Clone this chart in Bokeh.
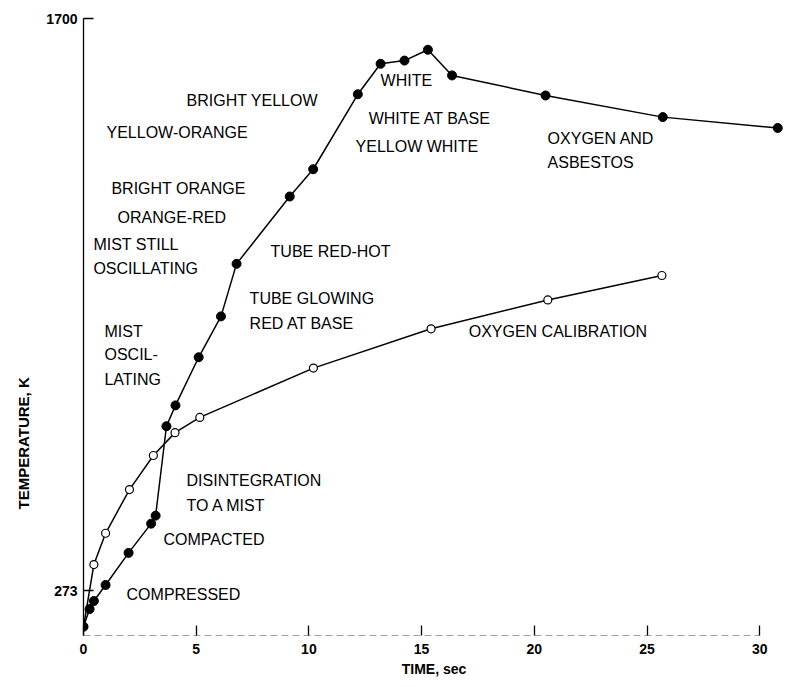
from bokeh.plotting import figure
from bokeh.models import Range1d, FixedTicker, Title
from bokeh.core.properties import value
from bokeh.embed import file_html
from bokeh.resources import INLINE

# Oxygen and asbestos (filled circles)
asb_time = [0, 0.27, 0.46, 0.98, 2.0, 3.0, 3.2, 3.68, 4.08, 5.11, 6.1, 6.79,
            9.15, 10.19, 12.17, 13.18, 14.24, 15.28, 16.35, 20.5, 25.7, 30.8]
asb_temp = [183, 227, 247, 287, 367, 440, 460, 683, 735, 855, 957, 1088,
            1256, 1324, 1511, 1587, 1595, 1622, 1558, 1508, 1454, 1427]

# Oxygen calibration (open circles)
cal_time = [0, 0.46, 0.98, 2.04, 3.1, 4.06, 5.16, 10.2, 15.42, 20.6, 25.66]
cal_temp = [183, 338, 416, 525, 610, 667, 705, 828, 926, 998, 1059]

x_ticks = [0, 5, 10, 15, 20, 25, 30]
y_ticks = [273, 1700]

notes = ["BRIGHT YELLOW", "YELLOW-ORANGE", "BRIGHT ORANGE", "ORANGE-RED",
         "MIST STILL", "OSCILLATING", "TUBE RED-HOT", "TUBE GLOWING",
         "RED AT BASE", "MIST", "OSCIL-", "LATING", "WHITE", "WHITE AT BASE",
         "YELLOW WHITE", "OXYGEN AND", "ASBESTOS", "OXYGEN CALIBRATION",
         "DISINTEGRATION", "TO A MIST", "COMPACTED", "COMPRESSED"]
note_time = [4.57, 1.02, 1.24, 1.51, 0.44, 0.44, 8.30, 7.37, 7.37, 0.93, 0.93,
             0.93, 13.18, 12.65, 12.07, 20.59, 20.59, 17.09, 4.57, 4.57, 3.55, 1.91]
note_temp = [1495, 1416, 1276, 1204, 1136, 1076, 1119, 1001, 939, 919, 862, 799,
             1545, 1451, 1381, 1401, 1341, 919, 547, 485, 400, 263]

FONT = "Liberation Sans"

p = figure(frame_width=701, frame_height=617,
           x_range=Range1d(0, 31.1), y_range=Range1d(161, 1700),
           output_backend="svg", toolbar_location=None,
           min_border_left=83, min_border_top=18, min_border_right=2,
           min_border_bottom=8)
p.outline_line_color = None
p.grid.grid_line_color = None
p.background_fill_color = "white"
p.border_fill_color = "white"

for ax in (p.xaxis[0], p.yaxis[0]):
    ax.major_tick_in = 10
    ax.major_tick_out = 0
    ax.minor_tick_line_color = None
    ax.major_tick_line_color = "black"
    ax.major_tick_line_width = 1.3
    ax.major_label_text_font = FONT
    ax.major_label_text_font_style = "bold"
    ax.major_label_text_font_size = "14px"
    ax.major_label_text_color = "black"
    ax.axis_label_text_font = FONT
    ax.axis_label_text_font_style = "bold"
    ax.axis_label_text_font_size = "14px"
    ax.axis_label_text_color = "black"

p.xaxis.ticker = FixedTicker(ticks=x_ticks)
p.yaxis.ticker = FixedTicker(ticks=y_ticks)
p.xaxis.axis_label = "TIME, sec"
p.xaxis.major_label_standoff = 8
p.xaxis.axis_label_standoff = 4
p.yaxis.major_label_standoff = 6
p.yaxis.axis_line_color = "black"
p.yaxis.axis_line_width = 1.3
p.xaxis.axis_line_color = None

ylab = Title(text="TEMPERATURE, K", align="left", offset=126, standoff=24,
             text_font=FONT, text_font_style="bold", text_font_size="15px",
             text_color="black")
p.add_layout(ylab, "left")

# broken-looking baseline from first to last tick
p.segment(x0=[x_ticks[0]], y0=[p.y_range.start], x1=[x_ticks[-1]], y1=[p.y_range.start],
          line_color="#444444", line_width=1.2, line_dash="7 4")

p.line(cal_time, cal_temp, line_color="black", line_width=1.5)
p.line(asb_time, asb_temp, line_color="black", line_width=1.5)
p.scatter(cal_time, cal_temp, size=8, marker="circle", fill_color="white",
          line_color="black", line_width=1.2)
p.scatter(asb_time, asb_temp, size=9, marker="circle", fill_color="black",
          line_color="black")

p.text(x=note_time, y=note_temp, text=notes, text_font=value(FONT),
       text_font_size="16px", text_baseline="middle", text_align="left",
       text_color="black")

open("out.html", "w").write(file_html(p, INLINE))
